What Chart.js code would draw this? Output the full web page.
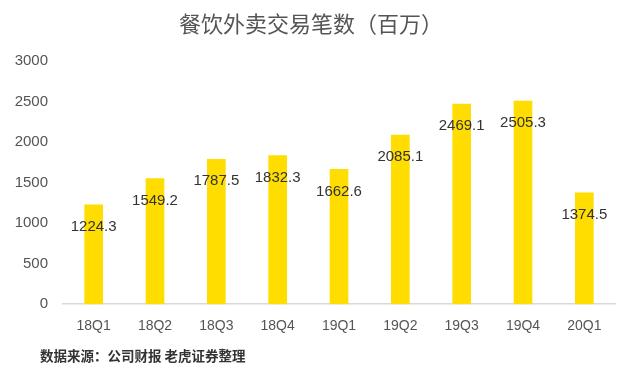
<!DOCTYPE html>
<html>
<head>
<meta charset="utf-8">
<script src="https://cdn.jsdelivr.net/npm/chart.js@4/dist/chart.umd.min.js"></script>
<style>
html,body{margin:0;padding:0;background:#fff;}
#wrap{width:640px;height:371px;}
</style>
</head>
<body>
<div id="wrap"><canvas id="c" width="640" height="371"></canvas></div>
<script>
const categories = ['18Q1','18Q2','18Q3','18Q4','19Q1','19Q2','19Q3','19Q4','20Q1'];
const transactions = [1224.3, 1549.2, 1787.5, 1832.3, 1662.6, 2085.1, 2469.1, 2505.3, 1374.5];
const yTicks = [0, 500, 1000, 1500, 2000, 2500, 3000];
const titleText = '餐饮外卖交易笔数（百万）';
const sourceText = '数据来源：公司财报 老虎证券整理';

const FONT = "'Liberation Sans', Arial, 'Noto Sans CJK SC', sans-serif";
const CJK = "'Noto Sans CJK SC', 'Liberation Sans', sans-serif";

const valueLabels = {
  id: 'valueLabels',
  afterDatasetsDraw(chart) {
    const ctx = chart.ctx;
    const meta = chart.getDatasetMeta(0);
    ctx.save();
    ctx.font = '15px ' + FONT;
    ctx.fillStyle = '#333333';
    ctx.textAlign = 'center';
    ctx.textBaseline = 'middle';
    meta.data.forEach((bar, i) => {
      ctx.fillText(transactions[i].toFixed(1), bar.x, bar.y + 22);
    });
    ctx.restore();
  }
};

const texts = {
  id: 'texts',
  afterDraw(chart) {
    const ctx = chart.ctx;
    ctx.save();
    ctx.font = '22px ' + CJK;
    ctx.fillStyle = '#555555';
    ctx.textAlign = 'center';
    ctx.textBaseline = 'middle';
    ctx.fillText(titleText, 311, 24);
    ctx.font = 'bold 13.5px ' + CJK;
    ctx.fillStyle = '#333333';
    ctx.textAlign = 'left';
    ctx.fillText(sourceText, 40, 356);
    ctx.restore();
  }
};

new Chart(document.getElementById('c'), {
  type: 'bar',
  data: {
    labels: categories,
    datasets: [{
      data: transactions,
      backgroundColor: '#FFDD00',
      barThickness: 18
    }]
  },
  options: {
    responsive: false,
    animation: false,
    devicePixelRatio: 1,
    layout: { padding: { left: 0, right: 25, top: 61, bottom: 22 } },
    plugins: {
      legend: { display: false },
      tooltip: { enabled: false },
      title: { display: false }
    },
    scales: {
      x: {
        grid: { display: false, drawTicks: false },
        border: { display: true, color: '#D9D9D9', width: 1.5 },
        ticks: { color: '#555555', font: { family: FONT, size: 14 }, padding: 14 }
      },
      y: {
        min: 0, max: 3000,
        afterBuildTicks(scale) { scale.ticks = yTicks.map(v => ({ value: v })); },
        afterFit(scale) { scale.width = 63; },
        grid: { display: false, drawTicks: false },
        border: { display: false },
        ticks: { color: '#555555', font: { family: FONT, size: 15 }, padding: 15,
                 callback: (v) => String(v) }
      }
    }
  },
  plugins: [valueLabels, texts]
});
</script>
</body>
</html>
